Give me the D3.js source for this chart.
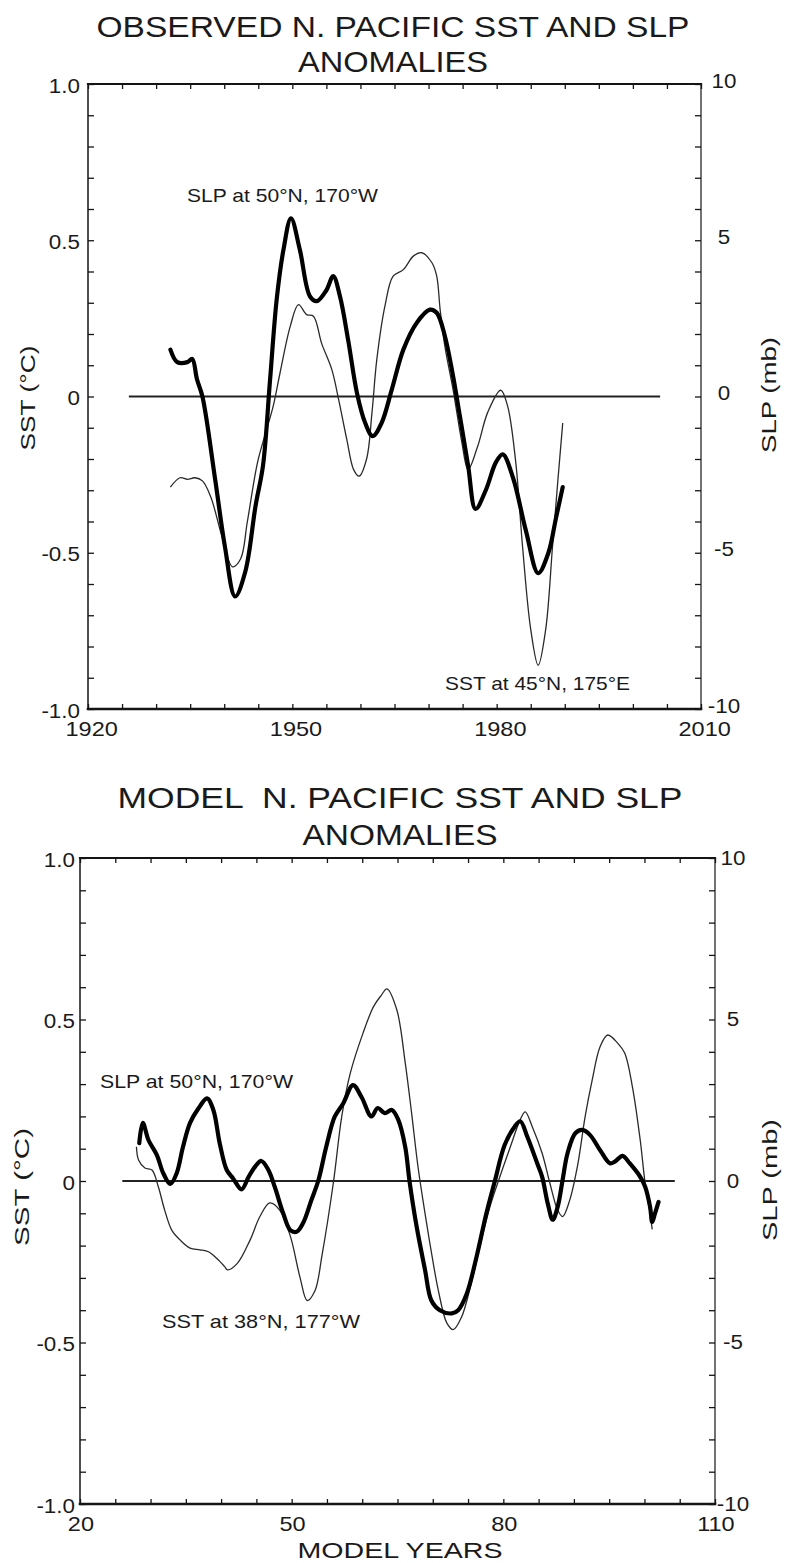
<!DOCTYPE html>
<html><head><meta charset="utf-8">
<script src="https://cdn.jsdelivr.net/npm/d3@7"></script>
<style>
body{margin:0;background:#fff}
text{font-family:"Liberation Sans",Arial,Helvetica,sans-serif;fill:#1a1a1a}
</style></head>
<body><svg id="c" width="785" height="1563"></svg>
<script>
// ---------- DATA ----------
const sstTickValues = [-1, -0.5, 0, 0.5, 1];
const sstTickLabels = ["-1.0", "-0.5", "0", "0.5", "1.0"];
const slpTickValues = [-10, -5, 0, 5, 10];
const slpTickLabels = ["-10", "-5", "0", "5", "10"];
const obsYearTicks = [1920, 1950, 1980, 2010];
const modelYearTicks = [20, 50, 80, 110];

// Observed: SLP at 50N,170W (mb, thick) and SST at 45N,175E (deg C, thin)
const obsSlpYears = [1932.1,1933.1,1934.6,1935.3,1936.0,1936.8,1938.7,1940.1,1941.6,1943.1,1944.6,1945.7,1946.7,1947.7,1948.7,1949.8,1951.1,1952.6,1953.6,1955.0,1956.0,1957.0,1958.2,1959.5,1960.7,1961.8,1963.1,1964.6,1966.3,1968.3,1970.2,1971.2,1972.4,1973.6,1974.6,1975.8,1976.9,1978.4,1979.9,1980.9,1982.4,1984.3,1986.1,1987.6,1988.7,1989.7];
const obsSlpMb    = [1.5,1.1,1.1,1.2,0.55,0,-2.7,-4.8,-6.4,-5.6,-3.5,-2.2,0.45,3.1,4.7,5.7,4.7,3.2,3.05,3.4,3.85,3.2,1.8,0.1,-0.85,-1.27,-0.85,0.22,1.5,2.37,2.78,2.68,1.93,0.65,-0.63,-2.2,-3.6,-3.0,-2.1,-1.85,-2.6,-4.3,-5.65,-5.0,-3.9,-2.9];
const obsSstYears = [1932.1,1933.5,1934.6,1935.7,1936.8,1938.0,1939.7,1941.2,1942.4,1943.4,1944.9,1946.3,1947.2,1948.2,1949.7,1950.9,1952.1,1953.1,1954.3,1955.8,1956.8,1958.0,1959.0,1959.8,1960.9,1961.7,1962.4,1963.6,1964.8,1966.3,1967.8,1969.0,1970.5,1971.2,1971.7,1972.4,1973.6,1974.9,1975.8,1977.2,1978.7,1980.6,1981.6,1982.8,1983.8,1985.0,1986.1,1987.2,1988.2,1989.0,1989.7];
const obsSstC     = [-0.29,-0.26,-0.265,-0.26,-0.27,-0.32,-0.45,-0.545,-0.52,-0.40,-0.21,-0.1,-0.03,0.076,0.225,0.294,0.262,0.257,0.17,0.086,-0.01,-0.138,-0.234,-0.255,-0.2,-0.05,0.118,0.29,0.385,0.406,0.45,0.46,0.428,0.385,0.278,0.16,0.022,-0.148,-0.234,-0.16,-0.05,0.02,-0.03,-0.21,-0.48,-0.745,-0.86,-0.745,-0.48,-0.265,-0.085];

// Model: SLP at 50N,170W (mb, thick) and SST at 38N,177W (deg C, thin)
const modelSlpYears = [28.4,28.9,29.7,30.9,31.8,32.8,33.7,34.6,35.6,36.8,38.0,38.9,39.8,40.8,41.7,42.9,43.9,44.8,45.7,46.7,47.6,48.8,49.8,50.7,51.6,52.8,53.8,54.9,56.1,57.3,58.7,59.9,61.3,62.2,63.2,64.2,65.1,66.1,66.7,67.7,68.9,69.8,71.0,72.7,73.6,74.8,76.2,77.6,78.8,80.2,81.6,82.4,83.4,84.8,85.5,86.3,87.0,87.7,88.4,89.1,90.2,91.2,92.3,93.7,95.1,95.8,96.9,97.9,99.4,100.1,100.8,101.1,101.5,102.0];
const modelSlpMb    = [1.17,1.8,1.27,0.8,0.24,-0.09,0.24,1.06,1.8,2.25,2.56,2.2,1.17,0.34,0.08,-0.26,0.13,0.44,0.62,0.34,-0.18,-1.0,-1.52,-1.57,-1.31,-0.59,0.03,1.06,1.99,2.4,2.97,2.6,2.0,2.26,2.1,2.2,1.9,1.05,0,-1.4,-2.75,-3.7,-4.0,-4.1,-4.0,-3.5,-2.35,-1.0,0,1.12,1.68,1.85,1.37,0.55,0.13,-0.7,-1.2,-0.8,0.03,0.86,1.48,1.58,1.42,0.96,0.55,0.6,0.78,0.55,0.13,-0.18,-0.8,-1.27,-1.0,-0.65];
const modelSstYears = [28.0,28.3,29.2,30.2,31.1,32.0,33.0,34.2,35.6,37.0,38.2,39.4,40.5,40.9,42.3,44.1,45.5,46.9,48.3,49.8,51.2,52.2,53.3,54.3,55.9,57.1,58.3,60.1,61.6,62.7,63.5,64.9,66.1,67.0,67.9,68.9,69.8,70.8,72.0,72.9,74.1,75.3,76.7,78.1,79.3,80.9,82.4,83.1,84.1,85.5,86.6,87.7,88.4,89.4,90.5,91.6,92.6,93.7,94.8,96.2,97.2,98.3,99.4,100.1,100.8,101.1];
const modelSstC     = [0.106,0.065,0.04,0.034,-0.018,-0.09,-0.152,-0.183,-0.208,-0.213,-0.219,-0.24,-0.265,-0.275,-0.255,-0.183,-0.11,-0.068,-0.09,-0.17,-0.30,-0.37,-0.34,-0.23,-0.007,0.2,0.333,0.457,0.54,0.575,0.595,0.53,0.365,0.21,0.045,-0.1,-0.22,-0.34,-0.44,-0.46,-0.42,-0.33,-0.2,-0.08,0.0,0.1,0.19,0.214,0.168,0.086,-0.007,-0.09,-0.11,-0.06,0.045,0.2,0.313,0.415,0.452,0.427,0.396,0.291,0.127,-0.007,-0.1,-0.15];

// ---------- DRAW ----------
const svg = d3.select("#c");
const INK = "#151515";

function fitTo(sel, L) {
  sel.attr("textLength", L).attr("lengthAdjust", "spacingAndGlyphs");
}
function stretch(sel, k) {
  sel.each(function () {
    const w = this.getComputedTextLength();
    this.setAttribute("textLength", w * k);
    this.setAttribute("lengthAdjust", "spacingAndGlyphs");
  });
}

function panel(cfg) {
  const x = d3.scaleLinear().domain(cfg.xDomain).range([cfg.left, cfg.right]);
  const y = d3.scaleLinear().domain([-1, 1]).range([cfg.bottom, cfg.top]);
  const y2 = d3.scaleLinear().domain([-10, 10]).range([cfg.bottom, cfg.top]);
  const g = svg.append("g");

  // titles
  cfg.title.forEach((t, i) => {
    g.append("text").attr("x", cfg.titleX).attr("y", cfg.titleY[i])
      .attr("text-anchor", "middle").style("font-size", "30px")
      .style("white-space", "pre").text(t).call(fitTo, cfg.titleW[i]);
  });

  const clean = s => { s.select(".domain").remove(); s.selectAll("line").attr("stroke", INK).attr("stroke-width", 1.3); };

  // minor ticks
  g.append("g").attr("transform", `translate(${cfg.left},0)`)
    .call(d3.axisLeft(y).tickValues(d3.range(-10, 11).map(d => d / 10)).tickSize(-6).tickFormat(""))
    .call(clean);
  g.append("g").attr("transform", `translate(${cfg.right},0)`)
    .call(d3.axisRight(y2).tickValues(d3.range(-10, 11)).tickSize(-6).tickFormat(""))
    .call(clean);
  const xt = d3.range(cfg.xDomain[0], cfg.xDomain[1] + 0.1, 5);
  g.append("g").attr("transform", `translate(0,${cfg.bottom})`)
    .call(d3.axisBottom(x).tickValues(xt).tickSize(-5).tickFormat(""))
    .call(clean);
  g.append("g").attr("transform", `translate(0,${cfg.top})`)
    .call(d3.axisTop(x).tickValues(xt).tickSize(-5).tickFormat(""))
    .call(clean);

  // frame
  const fr = [
    [cfg.left, cfg.top, cfg.right, cfg.top, 2.2],
    [cfg.left, cfg.bottom, cfg.right, cfg.bottom, 2.6],
    [cfg.left, cfg.top, cfg.left, cfg.bottom, 1.5],
    [cfg.right, cfg.top, cfg.right, cfg.bottom, 1.2]
  ];
  fr.forEach(f => g.append("line").attr("x1", f[0]).attr("y1", f[1]).attr("x2", f[2]).attr("y2", f[3])
    .attr("stroke", INK).attr("stroke-width", f[4]).attr("stroke-linecap", "square"));

  // labels: left
  const la = g.append("g").attr("transform", `translate(${cfg.left},0)`)
    .call(d3.axisLeft(y).tickValues(sstTickValues).tickSize(0).tickPadding(cfg.leftPad)
      .tickFormat((d, i) => sstTickLabels[i]));
  la.select(".domain").remove();
  la.selectAll("text").attr("font-family", null).attr("font-size", null).style("font-size", "20px")
    .attr("dy", cfg.leftDy).call(stretch, 1.12);
  // labels: right
  const ra = g.append("g").attr("transform", `translate(${cfg.right},0)`)
    .call(d3.axisRight(y2).tickValues(slpTickValues).tickSize(0)
      .tickFormat((d, i) => slpTickLabels[i]));
  ra.select(".domain").remove();
  ra.selectAll("text").attr("font-family", null).attr("font-size", null).style("font-size", "20px")
    .attr("text-anchor", "middle").attr("x", cfg.rightOff).attr("dy", cfg.rightDy).call(stretch, 1.12);
  // labels: bottom
  const ba = g.append("g").attr("transform", `translate(0,${cfg.bottom})`)
    .call(d3.axisBottom(x).tickValues(cfg.xTicks).tickSize(0).tickPadding(12).tickFormat(d3.format("d")));
  ba.select(".domain").remove();
  ba.selectAll("text").attr("font-family", null).attr("font-size", null).style("font-size", "21px")
    .attr("dx", cfg.xLabDx).call(stretch, 1.12);

  // axis titles
  g.append("text").attr("transform", `translate(${cfg.yLab[0]},${cfg.yLab[1]}) rotate(-90)`)
    .attr("text-anchor", "middle").style("font-size", "21px").text("SST (°C)").call(fitTo, cfg.yLab[2]);
  g.append("text").attr("transform", `translate(${cfg.y2Lab[0]},${cfg.y2Lab[1]}) rotate(-90)`)
    .attr("text-anchor", "middle").style("font-size", "21px").text("SLP (mb)").call(fitTo, cfg.y2Lab[2]);
  if (cfg.xLab) {
    g.append("text").attr("x", cfg.xLab[0]).attr("y", cfg.xLab[1]).attr("text-anchor", "middle")
      .style("font-size", "22px").text("MODEL YEARS").call(fitTo, cfg.xLab[2]);
  }

  // zero line
  g.append("line").attr("x1", x(cfg.zeroSpan[0])).attr("x2", x(cfg.zeroSpan[1]))
    .attr("y1", y(0)).attr("y2", y(0)).attr("stroke", "#222").attr("stroke-width", 2);

  // series
  const thin = d3.line().x(d => x(d[0])).y(d => y(d[1])).curve(d3.curveCatmullRom.alpha(0.5));
  const thick = d3.line().x(d => x(d[0])).y(d => y2(d[1])).curve(d3.curveCatmullRom.alpha(0.5));
  g.append("path").datum(d3.zip(cfg.sstX, cfg.sstV)).attr("d", thin)
    .attr("fill", "none").attr("stroke", "#2a2a2a").attr("stroke-width", 1.3);
  g.append("path").datum(d3.zip(cfg.slpX, cfg.slpV)).attr("d", thick)
    .attr("fill", "none").attr("stroke", "#000").attr("stroke-width", 4.2)
    .attr("stroke-linejoin", "round").attr("stroke-linecap", "round");

  // annotations
  cfg.notes.forEach(n => {
    g.append("text").attr("x", n[1]).attr("y", n[2]).style("font-size", "19px").text(n[0]).call(fitTo, n[3]);
  });
}

panel({
  xDomain: [1920, 2010], left: 88, right: 701, top: 84, bottom: 709,
  title: ["OBSERVED N. PACIFIC SST AND SLP", "ANOMALIES"], titleX: 393, titleY: [37, 72], titleW: [593, 190],
  leftPad: 8, leftDy: "0.4em", rightOff: 23, rightDy: "0.15em", xTicks: obsYearTicks, xLabDx: "0.15em",
  yLab: [35, 398, 105], y2Lab: [776, 395, 116], xLab: null,
  zeroSpan: [1926, 2004],
  sstX: obsSstYears, sstV: obsSstC, slpX: obsSlpYears, slpV: obsSlpMb,
  notes: [["SLP at 50°N, 170°W", 187, 202, 191], ["SST at 45°N, 175°E", 445, 690, 185]]
});

panel({
  xDomain: [20, 110], left: 80, right: 715, top: 858, bottom: 1504,
  title: ["MODEL  N. PACIFIC SST AND SLP", "ANOMALIES"], titleX: 400, titleY: [808, 845], titleW: [565, 195],
  leftPad: 5, leftDy: "0.4em", rightOff: 18, rightDy: "0.32em", xTicks: modelYearTicks, xLabDx: "0.02em",
  yLab: [29, 1187, 118], y2Lab: [777, 1180, 122], xLab: [400, 1558, 205],
  zeroSpan: [26, 104.3],
  sstX: modelSstYears, sstV: modelSstC, slpX: modelSlpYears, slpV: modelSlpMb,
  notes: [["SLP at 50°N, 170°W", 100, 1088, 193], ["SST at 38°N, 177°W", 162, 1328, 198]]
});
</script>
</body></html>
